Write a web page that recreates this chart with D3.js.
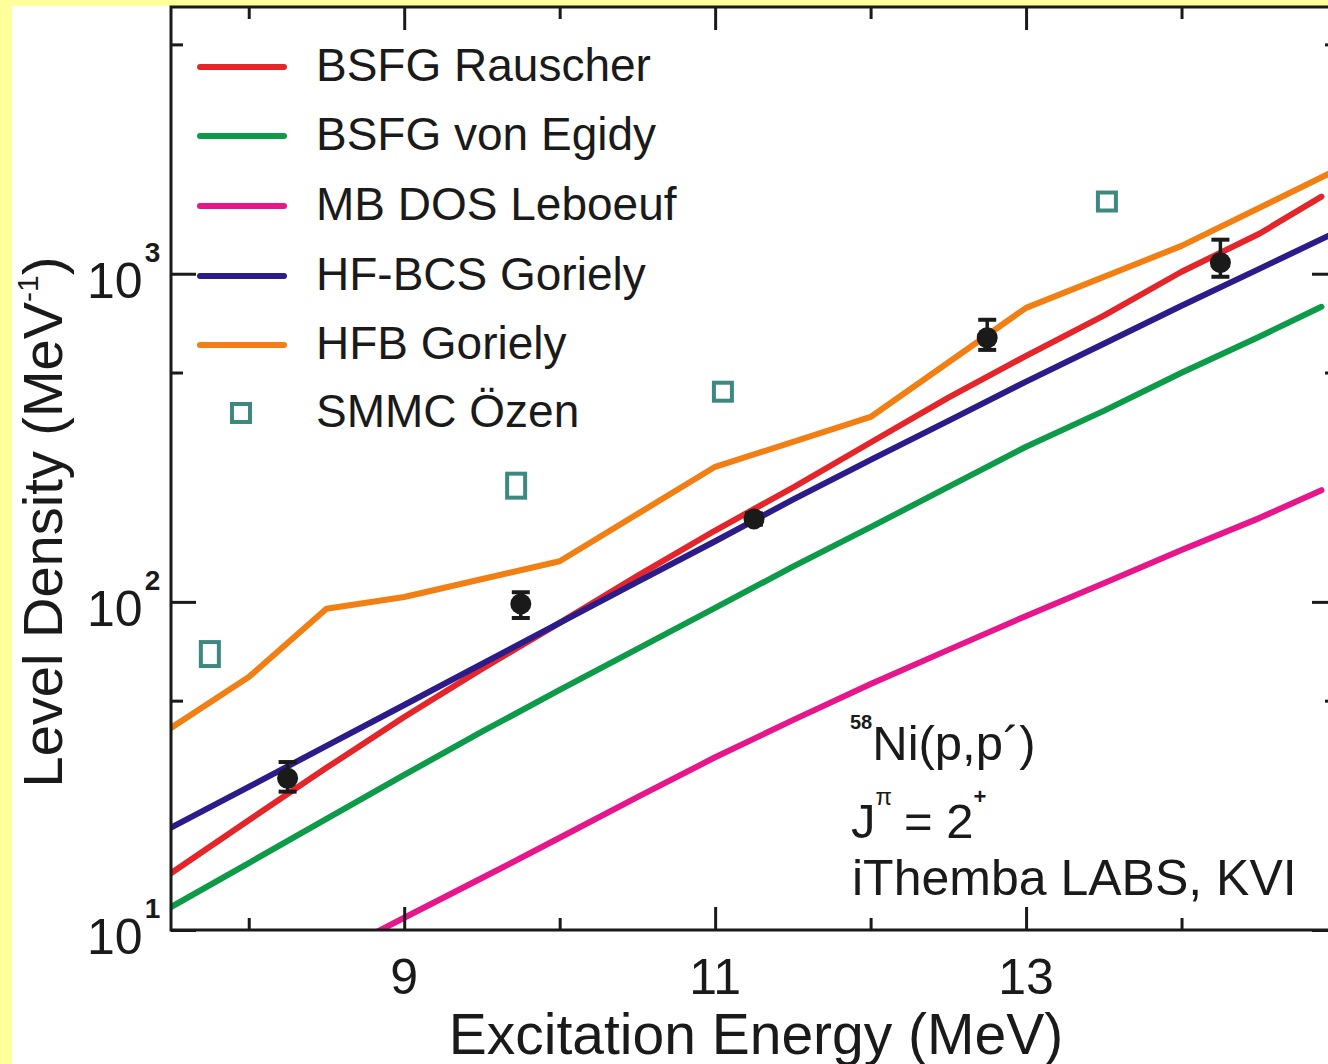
<!DOCTYPE html>
<html>
<head>
<meta charset="utf-8">
<script src="https://cdn.jsdelivr.net/npm/d3@7"></script>
<style>
body { margin: 0; background: #fff; }
text { font-family: "Liberation Sans", Arial, sans-serif; fill: #1a1a1a; }
</style>
</head>
<body>
<svg width="1328" height="1064"></svg>
<script>
// model curves
var energyA = [7.5, 8, 8.5, 9, 9.5, 10, 10.5, 11, 11.5, 12, 12.5, 13, 13.5, 14, 14.5, 14.9];
var rauscher = [14.9, 21.6, 31.2, 44.6, 62.5, 86.3, 120, 165, 223, 306, 419, 562, 745, 1014, 1324, 1718];
var vonEgidy = [11.75, 16.0, 21.8, 29.7, 40.2, 53.9, 71.9, 95.9, 128, 169, 224, 297, 382, 499, 643, 793];
var energyL = [8.5, 9, 9.5, 10, 10.5, 11, 11.5, 12, 12.5, 13, 13.5, 14, 14.5, 14.9];
var leboeuf = [8.22, 10.9, 14.4, 19.1, 25.4, 33.6, 43.6, 56.2, 71.4, 90.6, 114, 144, 180, 219];
var energyB = [7.5, 8, 8.5, 9, 9.5, 10, 10.5, 11, 11.5, 12, 12.5, 13, 13.5, 14, 14.5, 15];
var hfbcs = [20.5, 27.3, 36.4, 48.5, 64.7, 86.3, 115, 153, 205, 271, 356, 469, 612, 799, 1035, 1343];
var energyH = [7.5, 8, 8.5, 9, 10, 11, 12, 13, 14, 15];
var hfb = [41.3, 59.0, 95.3, 103.5, 133, 258, 366, 787, 1216, 2075];

// measured points
var expE = [8.25, 9.75, 11.25, 12.75, 14.25];
var expVal = [29.0, 98.6, 179, 638, 1081];
var expLo = [26.4, 89.3, 172, 586, 979];
var expHi = [32.5, 107, 186, 724, 1270];

// SMMC
var smmcE = [7.75, 9.72, 11.05, 13.52];
var smmcVal = [69.3, 226, 437, 1660];
var smmcLo = [67.9, 221.3, 437, 1660];
var smmcHi = [70.8, 230.8, 437, 1660];

var xMajor = [9, 11, 13], xMinor = [8, 10, 12, 14];
var yMajor = [10, 100, 1000], yMinor = [50, 500, 5000];
var yExp = ['1', '2', '3'];

var legendNames = ['BSFG Rauscher', 'BSFG von Egidy', 'MB DOS Leboeuf', 'HF-BCS Goriely', 'HFB Goriely', 'SMMC \u00d6zen'];
var colors = ['#e4262b', '#0d9b4a', '#e6178b', '#2b1c8a', '#f17f14', '#3f8880'];

var svg = d3.select('svg');
var pL = 171, pR = 1337, pT = 7, pB = 930;

var x = d3.scaleLinear().domain([7.5, 15]).range([pL, pR]);
var y = d3.scaleLog().domain([10, 6500]).range([pB, pT]);

svg.append('rect').attr('width', 1328).attr('height', 1064).attr('fill', '#fff');
svg.append('rect').attr('width', 12).attr('height', 1064).attr('fill', '#ffff9c');
svg.append('rect').attr('width', 1328).attr('height', 6).attr('fill', '#ffff9c');

svg.append('clipPath').attr('id', 'plot')
	.append('rect').attr('x', pL).attr('y', pT).attr('width', pR - pL).attr('height', pB - pT);

var plot = svg.append('g').attr('clip-path', 'url(#plot)');

var curves = [
	[energyA, rauscher, 0],
	[energyA, vonEgidy, 1],
	[energyL, leboeuf, 2],
	[energyB, hfbcs, 3],
	[energyH, hfb, 4]
];
var line = d3.line().x(function(d){ return x(d[0]); }).y(function(d){ return y(d[1]); });

curves.forEach(function(c) {
	var pts = c[0].map(function(e, i){ return [e, c[1][i]]; });
	plot.append('path')
		.attr('d', line(pts))
		.attr('fill', 'none')
		.attr('stroke', colors[c[2]])
		.attr('stroke-width', 6)
		.attr('stroke-linecap', 'round')
		.attr('stroke-linejoin', 'round');
});

// SMMC squares
plot.selectAll('rect.smmc').data(smmcE).enter().append('rect')
	.attr('class', 'smmc')
	.attr('x', function(d){ return x(d) - 9; })
	.attr('y', function(d, i){ return y(smmcHi[i]) - 9; })
	.attr('width', 18)
	.attr('height', function(d, i){ return y(smmcLo[i]) - y(smmcHi[i]) + 18; })
	.attr('fill', 'none')
	.attr('stroke', colors[5])
	.attr('stroke-width', 4);

// data with error bars
var exp = plot.selectAll('g.exp').data(expE).enter().append('g').attr('class', 'exp');
exp.append('line')
	.attr('x1', function(d){ return x(d); }).attr('x2', function(d){ return x(d); })
	.attr('y1', function(d, i){ return y(expLo[i]); }).attr('y2', function(d, i){ return y(expHi[i]); })
	.attr('stroke', '#1a1a1a').attr('stroke-width', 3.5);
[expLo, expHi].forEach(function(arr) {
	exp.append('line')
		.attr('x1', function(d){ return x(d) - 9; }).attr('x2', function(d){ return x(d) + 9; })
		.attr('y1', function(d, i){ return y(arr[i]); }).attr('y2', function(d, i){ return y(arr[i]); })
		.attr('stroke', '#1a1a1a').attr('stroke-width', 4);
});
exp.append('circle')
	.attr('cx', function(d){ return x(d); })
	.attr('cy', function(d, i){ return y(expVal[i]); })
	.attr('r', 10.5)
	.attr('fill', '#1a1a1a');

// frame and ticks
svg.append('rect').attr('x', pL).attr('y', pT).attr('width', pR - pL).attr('height', pB - pT)
	.attr('fill', 'none').attr('stroke', '#1a1a1a').attr('stroke-width', 3);

function tickAxis(axis, scale, values, size, tx, ty) {
	var g = svg.append('g').attr('transform', 'translate(' + tx + ',' + ty + ')')
		.call(axis(scale).tickValues(values).tickSizeInner(size).tickSizeOuter(0).tickFormat(''));
	g.select('.domain').remove();
	g.selectAll('.tick line').attr('stroke', '#1a1a1a').attr('stroke-width', 3);
	return g;
}
tickAxis(d3.axisBottom, x, xMajor, -23, 0, pB);
tickAxis(d3.axisBottom, x, xMinor, -12, 0, pB);
tickAxis(d3.axisTop, x, xMajor, -23, 0, pT);
tickAxis(d3.axisTop, x, xMinor, -12, 0, pT);
tickAxis(d3.axisLeft, y, yMajor, -25, pL, 0);
tickAxis(d3.axisLeft, y, yMinor, -12, pL, 0);
tickAxis(d3.axisRight, y, yMajor, -25, pR, 0);
tickAxis(d3.axisRight, y, yMinor, -12, pR, 0);

// tick labels
svg.selectAll('text.xt').data(xMajor).enter().append('text')
	.attr('class', 'xt')
	.attr('x', function(d){ return x(d); })
	.attr('y', 994)
	.attr('text-anchor', 'middle')
	.attr('font-size', 50)
	.text(function(d){ return d; });

var yt = svg.selectAll('text.yt').data(yMajor).enter().append('text')
	.attr('class', 'yt')
	.attr('x', 87)
	.attr('y', function(d){ return y(d) + 24; })
	.attr('font-size', 50);
yt.append('tspan').text('10');
yt.append('tspan').attr('font-size', 28).attr('font-weight', 'bold').attr('dx', 2).attr('dy', -36)
	.text(function(d, i){ return yExp[i]; });

// axis titles
svg.append('text')
	.attr('x', 756).attr('y', 1054)
	.attr('text-anchor', 'middle')
	.attr('font-size', 57)
	.text('Excitation Energy (MeV)');

var yl = svg.append('text')
	.attr('transform', 'translate(62,522) rotate(-90)')
	.attr('text-anchor', 'middle')
	.attr('font-size', 56);
yl.append('tspan').text('Level Density (MeV');
yl.append('tspan').attr('font-size', 30).attr('dy', -24).text('-1');
yl.append('tspan').attr('dy', 24).text(')');

// legend
var rowY = [67, 136, 206, 276, 345, 413];
var leg = svg.selectAll('g.leg').data(legendNames).enter().append('g').attr('class', 'leg')
	.attr('transform', function(d, i){ return 'translate(0,' + rowY[i] + ')'; });
leg.filter(function(d, i){ return i < 5; }).append('line')
	.attr('x1', 200).attr('x2', 284)
	.attr('stroke', function(d, i){ return colors[i]; })
	.attr('stroke-width', 6)
	.attr('stroke-linecap', 'round');
leg.filter(function(d, i){ return i == 5; }).append('rect')
	.attr('x', 232).attr('y', -9).attr('width', 18).attr('height', 18)
	.attr('fill', 'none').attr('stroke', colors[5]).attr('stroke-width', 4);
leg.append('text')
	.attr('x', 316).attr('y', 14)
	.attr('font-size', 46)
	.text(function(d){ return d; });

// annotation
var a1 = svg.append('text').attr('x', 850).attr('y', 760).attr('font-size', 49);
a1.append('tspan').attr('font-size', 20).attr('font-weight', 'bold').attr('dy', -31).text('58');
a1.append('tspan').attr('dy', 31).text('Ni(p,p\u00b4)');

var a2 = svg.append('text').attr('x', 851).attr('y', 838).attr('font-size', 49);
a2.append('tspan').text('J');
a2.append('tspan').attr('font-size', 24).attr('dx', 0).attr('dy', -33).text('\u03c0');
a2.append('tspan').attr('dx', 12).attr('dy', 33).text('= 2');
a2.append('tspan').attr('font-size', 22).attr('font-weight', 'bold').attr('dy', -34).text('+');

svg.append('text').attr('x', 852).attr('y', 895).attr('font-size', 50).text('iThemba LABS, KVI');
</script>
</body>
</html>
